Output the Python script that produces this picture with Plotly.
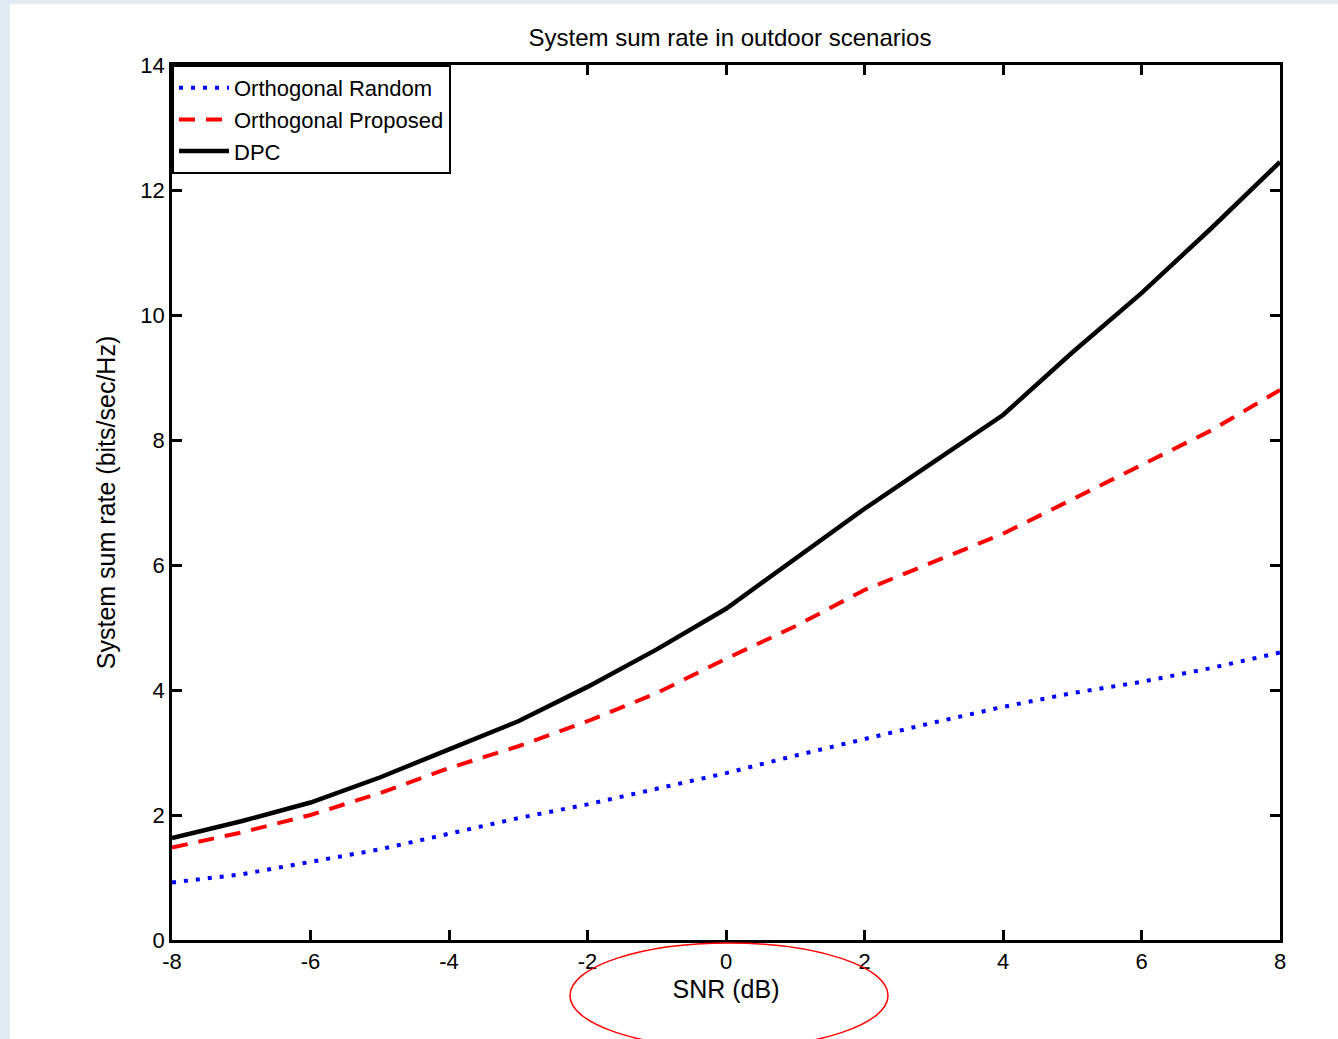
import plotly.graph_objects as go

snr_db = [-8, -7, -6, -5, -4, -3, -2, -1, 0, 1, 2, 3, 4, 5, 6, 7, 8]
orth_random = [0.92, 1.05, 1.25, 1.45, 1.70, 1.95, 2.17, 2.42, 2.67, 2.95, 3.22, 3.48, 3.73, 3.95, 4.13, 4.35, 4.60]
orth_proposed = [1.48, 1.72, 2.00, 2.35, 2.75, 3.10, 3.50, 3.95, 4.50, 5.02, 5.60, 6.05, 6.50, 7.05, 7.60, 8.15, 8.80]
dpc = [1.63, 1.90, 2.20, 2.60, 3.05, 3.50, 4.05, 4.65, 5.30, 6.10, 6.90, 7.65, 8.40, 9.40, 10.35, 11.38, 12.45]

x_ticks = [-8, -6, -4, -2, 0, 2, 4, 6, 8]
y_ticks = [0, 2, 4, 6, 8, 10, 12, 14]

FONT = "Liberation Sans, Arial, sans-serif"

fig = go.Figure()
fig.add_trace(go.Scatter(x=snr_db, y=orth_random, mode="lines", name="Orthogonal Random",
                         line=dict(color="#0000ff", width=4, dash="4px,8px")))
fig.add_trace(go.Scatter(x=snr_db, y=orth_proposed, mode="lines", name="Orthogonal Proposed",
                         line=dict(color="#ff0000", width=4, dash="16px,11px")))
fig.add_trace(go.Scatter(x=snr_db, y=dpc, mode="lines", name="DPC",
                         line=dict(color="#000000", width=4.5)))

L, R, T, B = 172, 58, 65, 99
W, H = 1338, 1039
pw, ph = W - L - R, H - T - B

def px(xp):
    return (xp - L) / pw

def py(yp):
    return (H - B - yp) / ph

fig.update_layout(
    width=W, height=H,
    margin=dict(l=L, r=R, t=T, b=B, pad=0),
    paper_bgcolor="#e1ebf4",
    plot_bgcolor="white",
    font=dict(family=FONT, size=22, color="black"),
    title=dict(text="System sum rate in outdoor scenarios", xref="container", x=730 / W, xanchor="center",
               yref="container", y=1 - 38 / H, yanchor="middle", font=dict(size=24, family=FONT)),
    showlegend=True,
    legend=dict(x=0, y=1, xanchor="left", yanchor="top", bgcolor="white",
                bordercolor="black", borderwidth=2, font=dict(size=22, family=FONT),
                tracegroupgap=0, itemwidth=50),
    xaxis=dict(range=[-8, 8], tickvals=x_ticks, ticktext=[str(v) for v in x_ticks],
               showgrid=False, zeroline=False, showline=True, linecolor="black", linewidth=2.5,
               mirror="ticks", ticks="inside", ticklen=10, tickwidth=2.5, tickcolor="black",
               title=dict(text="SNR (dB)", standoff=8, font=dict(size=25)),
               tickfont=dict(size=22)),
    yaxis=dict(range=[0, 14], tickvals=y_ticks, ticktext=[str(v) for v in y_ticks],
               showgrid=False, zeroline=False, showline=True, linecolor="black", linewidth=2.5,
               mirror="ticks", ticks="inside", ticklen=10, tickwidth=2.5, tickcolor="black",
               title=dict(text="System sum rate (bits/sec/Hz)", standoff=18, font=dict(size=25)),
               tickfont=dict(size=22)),
    shapes=[
        dict(type="rect", xref="paper", yref="paper", x0=px(10), x1=px(W + 5), y0=py(H + 5), y1=py(4),
             fillcolor="white", line=dict(width=0), layer="below"),
        dict(type="circle", xref="paper", yref="paper", x0=px(570), x1=px(888), y0=py(1048), y1=py(943),
             line=dict(color="#ff0000", width=1.5), fillcolor="rgba(0,0,0,0)", layer="above"),
    ],
)

fig.write_html("out.html")
